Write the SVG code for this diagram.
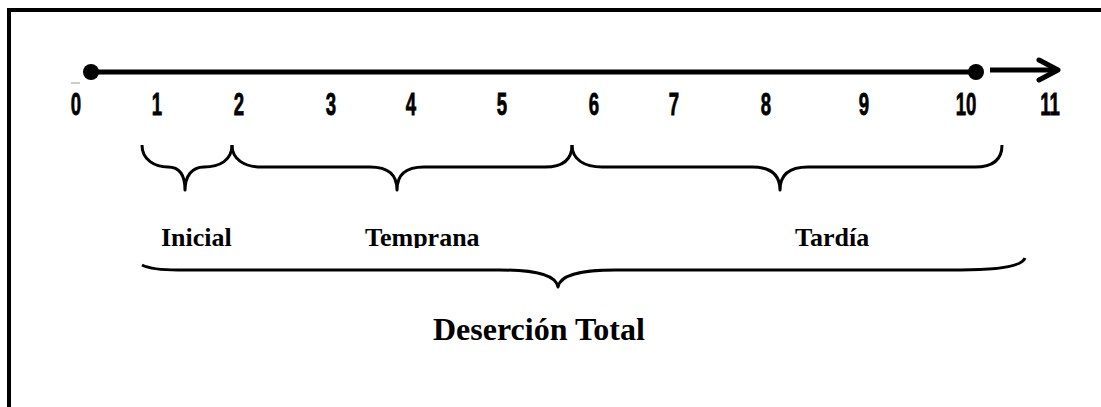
<svg xmlns="http://www.w3.org/2000/svg" width="1101" height="407" viewBox="0 0 1101 407">
  <style>
    .num { font-family: "Liberation Sans", "DejaVu Sans", sans-serif; font-weight: bold; font-size: 31px; fill: #000; stroke: #000; stroke-width: 0.8; text-anchor: middle; }
    .lbl { font-family: "Liberation Serif", "Times New Roman", serif; font-weight: bold; font-size: 26px; fill: #000; }
    .ttl { font-family: "Liberation Serif", "Times New Roman", serif; font-weight: bold; font-size: 32px; fill: #000; }
    .brace { fill: none; stroke: #000; stroke-width: 3; stroke-linejoin: round; }
    .axis { stroke: #000; stroke-width: 5; fill: none; }
  </style>
  <defs>
    <clipPath id="lblclip"><rect x="0" y="200" width="1101" height="48"/></clipPath>
  </defs>
  <rect width="1101" height="407" fill="#fff"/>
  <g id="frame">
    <path d="M9,407 L9,10 L1101,10" fill="none" stroke="#000" stroke-width="4"/>
  </g>
  <g id="connectors">
    <line class="axis" x1="91" y1="72" x2="976" y2="72"/>
    <circle cx="91" cy="72" r="8" fill="#000"/>
    <circle cx="976" cy="72" r="8" fill="#000"/>
    <line class="axis" x1="990" y1="70" x2="1056" y2="70"/>
    <polyline class="axis" points="1039,60 1058,70 1039,80" stroke-linecap="round" stroke-linejoin="round"/>
    <line x1="71" y1="83" x2="80" y2="83" stroke="#999" stroke-width="1"/>
  </g>
  <g id="ticks">
    <text class="num" transform="translate(76,115) scale(0.6,1)">0</text>
    <text class="num" transform="translate(157,115) scale(0.6,1)">1</text>
    <text class="num" transform="translate(239,115) scale(0.6,1)">2</text>
    <text class="num" transform="translate(331,115) scale(0.6,1)">3</text>
    <text class="num" transform="translate(411,115) scale(0.6,1)">4</text>
    <text class="num" transform="translate(502,115) scale(0.6,1)">5</text>
    <text class="num" transform="translate(594,115) scale(0.6,1)">6</text>
    <text class="num" transform="translate(674,115) scale(0.6,1)">7</text>
    <text class="num" transform="translate(766,115) scale(0.6,1)">8</text>
    <text class="num" transform="translate(864,115) scale(0.6,1)">9</text>
    <text class="num" transform="translate(966,115) scale(0.6,1)">10</text>
    <text class="num" transform="translate(1050,115) scale(0.6,1)">11</text>
  </g>
  <g id="brace-inicial">
    <path class="brace" d="M142,145 C142,160 155,167 168,167 C180,167 185,176 185,190 C185,176 192,167 204,167 C220,167 232,160 232,145"/>
    <text class="lbl" x="161" y="246" clip-path="url(#lblclip)">Inicial</text>
  </g>
  <g id="brace-temprana">
    <path class="brace" d="M232,145 C232,160 245,167 262,167 L370,167 C388,167 397,174 397,190 C397,174 406,167 424,167 L545,167 C562,167 572,160 572,145"/>
    <text class="lbl" x="365" y="246" clip-path="url(#lblclip)">Temprana</text>
  </g>
  <g id="brace-tardia">
    <path class="brace" d="M572,145 C572,160 585,167 602,167 L752,167 C770,167 780,174 780,190 C780,174 790,167 808,167 L975,167 C992,167 1002,160 1002,145"/>
    <text class="lbl" x="795" y="246" clip-path="url(#lblclip)">Tardía</text>
  </g>
  <g id="brace-total">
    <path class="brace" stroke-width="3.5" d="M142,265 C150,269 160,270 178,270 L500,270 C540,270 556,276 558,287 C560,276 576,270 616,270 L960,270 C1000,270 1022,266 1025,258"/>
    <text class="ttl" x="433" y="340">Deserción Total</text>
  </g>
</svg>
